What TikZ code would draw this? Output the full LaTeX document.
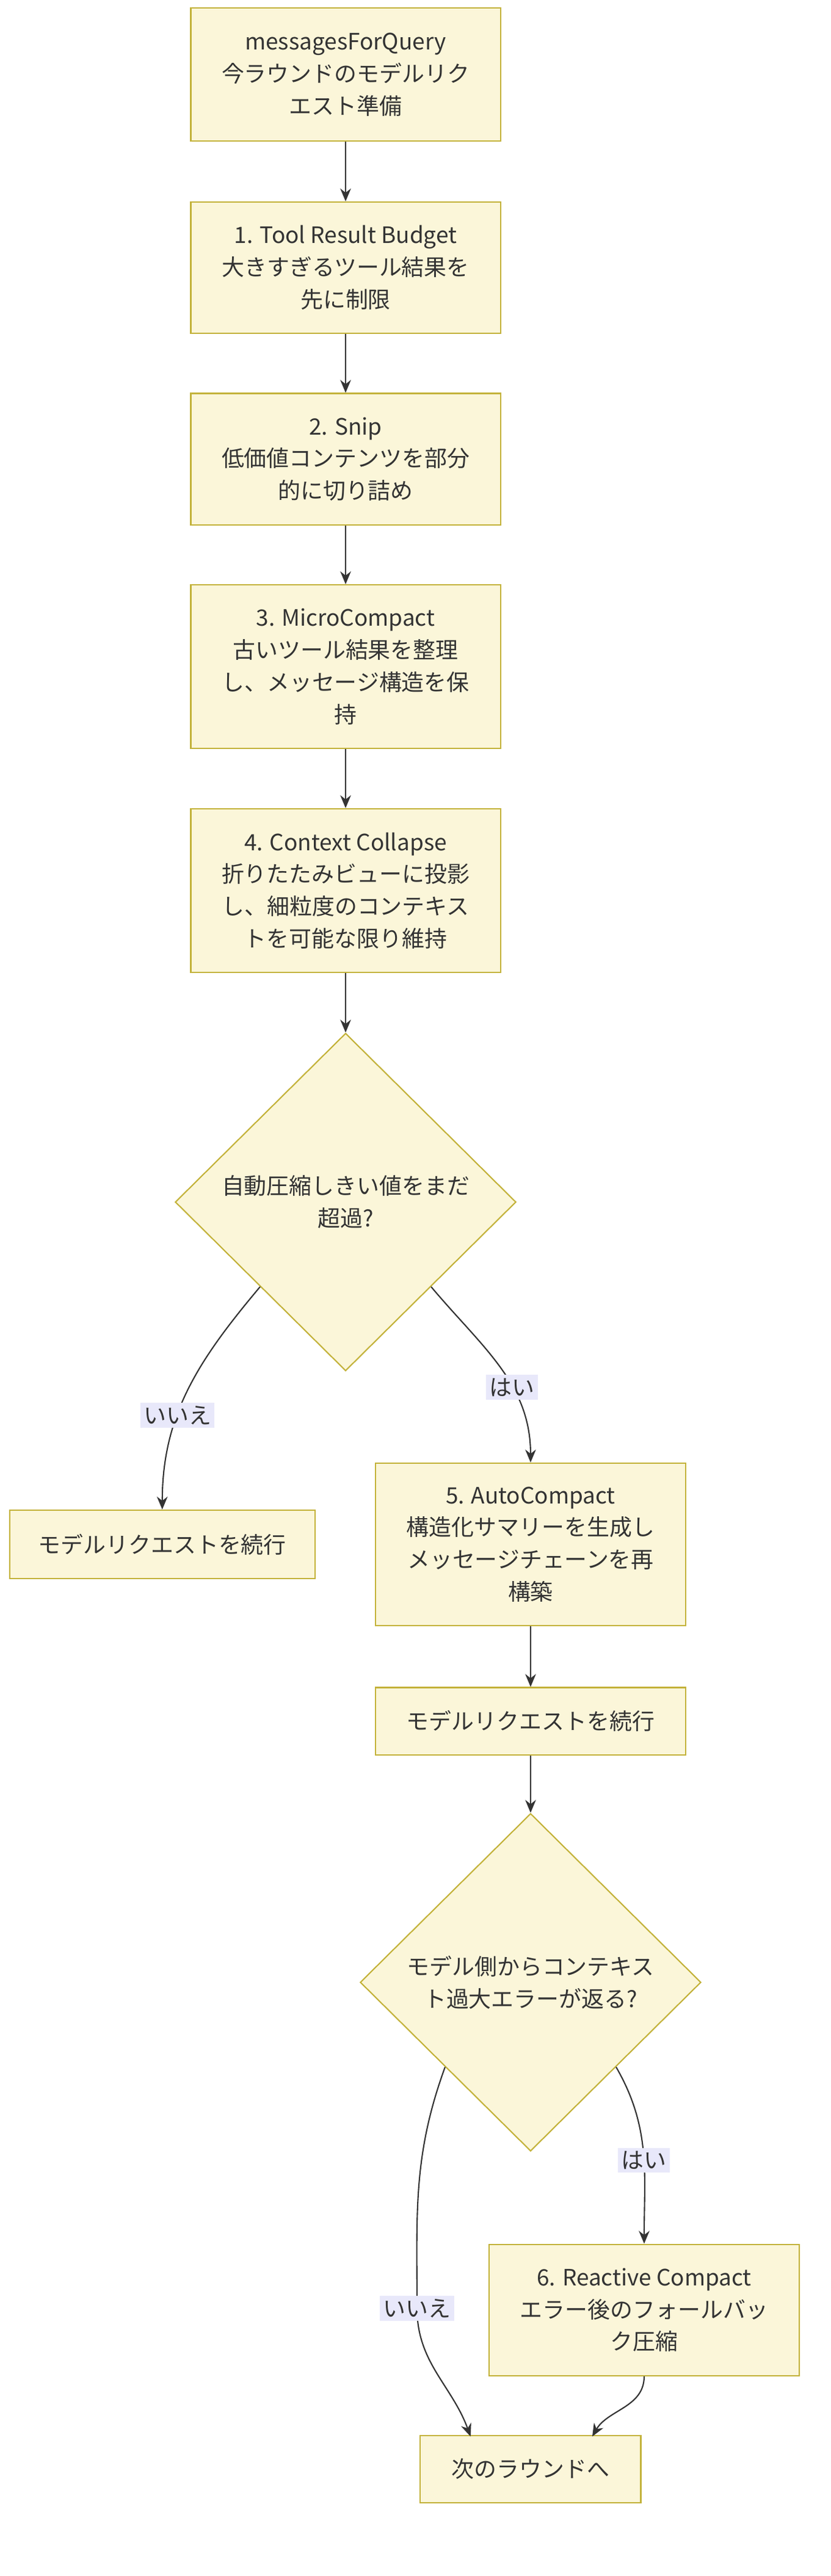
\documentclass[tikz,border=0pt]{standalone}
\usepackage{fontspec}
\setmainfont{Noto Sans CJK JP}
\usetikzlibrary{shapes.geometric,arrows.meta}
\definecolor{boxfill}{HTML}{FBF6D9}
\definecolor{boxline}{HTML}{C3B23A}
\definecolor{edgeline}{HTML}{333333}
\definecolor{lblfill}{HTML}{E8E8FA}
\tikzset{
  box/.style={draw=boxline, fill=boxfill, line width=0.6pt, align=center, inner sep=0pt,
    minimum width=5.07cm},
  dia/.style={draw=boxline, fill=boxfill, line width=0.6pt, diamond, align=center,
    inner sep=0pt, minimum width=5.58cm, minimum height=5.53cm},
  edge/.style={draw=edgeline, line width=0.6pt, -{Stealth[length=6pt,width=5pt]}},
  lbl/.style={fill=lblfill, inner sep=1.5pt},
}
\begin{document}
\begin{tikzpicture}[x=0.02656cm, y=-0.02656cm, font=\fontsize{10.5}{15}\selectfont, text=edgeline]
	\useasboundingbox (0,0) rectangle (512,1588);

	\node[box, minimum height=2.18cm] (prep) at (213,46) {messagesForQuery\\今ラウンドのモデルリク\\エスト準備};
	\node[box, minimum height=2.15cm] (budget) at (213,165) {1. Tool Result Budget\\大きすぎるツール結果を\\先に制限};
	\node[box, minimum height=2.15cm] (snip) at (213,283) {2. Snip\\低価値コンテンツを部分\\的に切り詰め};
	\node[box, minimum height=2.68cm] (micro) at (213,411) {3. MicroCompact\\古いツール結果を整理\\し、メッセージ構造を保\\持};
	\node[box, minimum height=2.68cm] (collapse) at (213,549) {4. Context Collapse\\折りたたみビューに投影\\し、細粒度のコンテキス\\トを可能な限り維持};
	\node[dia] (over) at (213,741) {自動圧縮しきい値をまだ\\超過?};
	\node[box, minimum width=5.0cm, minimum height=1.12cm] (sendA) at (100,952) {モデルリクエストを続行};
	\node[box, minimum height=2.66cm] (auto) at (327,952) {5. AutoCompact\\構造化サマリーを生成し\\メッセージチェーンを再\\構築};
	\node[box, minimum height=1.1cm] (sendB) at (327,1061) {モデルリクエストを続行};
	\node[dia] (err) at (327,1222) {モデル側からコンテキス\\ト過大エラーが返る?};
	\node[box, minimum height=2.15cm] (reactive) at (397,1424) {6. Reactive Compact\\エラー後のフォールバッ\\ク圧縮};
	\node[box, minimum width=3.61cm, minimum height=1.1cm] (next) at (327,1522) {次のラウンドへ};
	\coordinate (bend) at (257,1423);
	\coordinate (inL) at (290,1502);
	\coordinate (inR) at (365,1502);

	\draw[edge] (prep) -- (budget);
	\draw[edge] (budget) -- (snip);
	\draw[edge] (snip) -- (micro);
	\draw[edge] (micro) -- (collapse);
	\draw[edge] (collapse) -- (over);
	\draw[edge] (over.south west) to[out=-130, in=90] node[lbl, pos=0.62] {いいえ} (sendA.north);
	\draw[edge] (over.south east) to[out=-50, in=90] node[lbl, pos=0.62] {はい} (auto.north);
	\draw[edge] (auto) -- (sendB);
	\draw[edge] (sendB) -- (err);
	\draw[edge] (err.south east) to[out=-60, in=90] node[lbl, pos=0.55] {はい} (reactive.north);
	\draw[edge] (err.south west) to[out=-110, in=90] (bend) to[out=-90, in=110] (inL);
	\node[lbl] at (bend) {いいえ};
	\draw[edge] (reactive.south) to[out=-90, in=60] (inR);
\end{tikzpicture}
\end{document}
